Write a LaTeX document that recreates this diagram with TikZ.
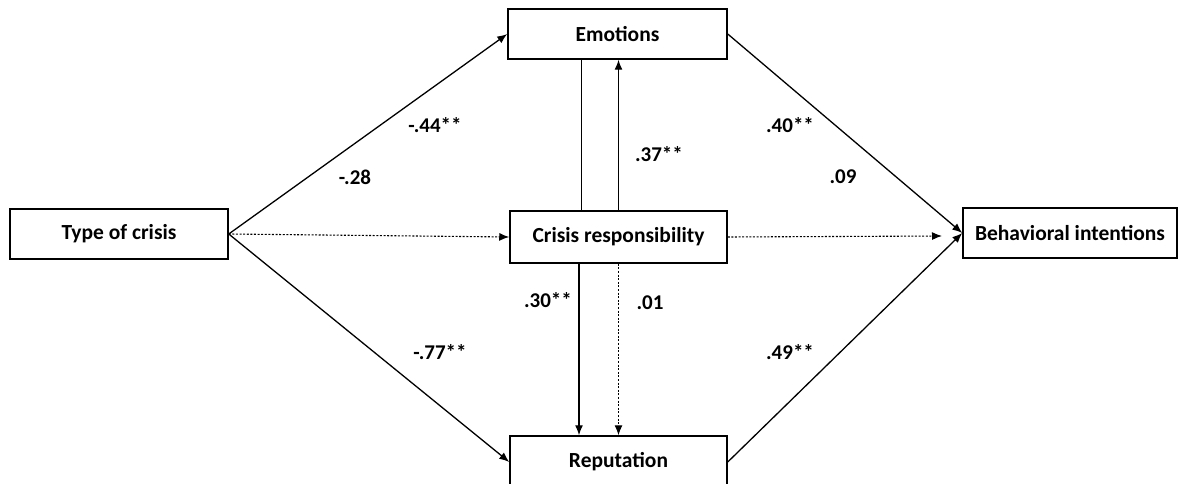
\documentclass[tikz,border=0pt]{standalone}
\usepackage{fontspec}
\setmainfont{Carlito}
\usetikzlibrary{arrows.meta}

\tikzset{
  var/.style={draw=black, line width=1.5pt, minimum height=50pt, inner sep=0pt,
    font=\fontsize{21.5}{24}\selectfont\bfseries},
  path/.style={black, line width=1.3pt, -{Latex[length=10pt,width=8pt]}},
  nspath/.style={path, dash pattern=on 2pt off 1.6pt, line width=1.1pt},
  coef/.style={font=\fontsize{21}{24}\selectfont\bfseries, inner sep=0pt}
}

\begin{document}
\begin{tikzpicture}[x=1pt, y=-1pt]
        \useasboundingbox (0,0) rectangle (1179,484);
        %\label{crisis_model}
        \node[var, minimum width=218pt] (type) at (119,234) {Type of crisis};
        \node[var, minimum width=219pt] (emo) at (617.5,34) {Emotions};
        \node[var, minimum width=217pt, minimum height=52pt] (resp) at (618.5,237) {Crisis responsibility};
        \node[var, minimum width=217pt, minimum height=52pt] (rep) at (618.5,462) {Reputation};
        \node[var, minimum width=214pt] (behav) at (1070,233) {Behavioral intentions};
        \coordinate (dend) at (942,236);
        % paths from type of crisis
        \draw[path] (type.east) -- (emo.west);
        \draw[nspath] (type.east) -- (resp.west);
        \draw[path] (type.east) -- (rep.west);
        % paths to behavioral intentions
        \draw[path] (emo.east) -- (behav.west);
        \draw[nspath] (resp.east) -- (dend);
        \draw[path] (rep.east) -- (behav.west);
        % crisis responsibility
        \draw[black, line width=1.3pt] ([xshift=-37pt]resp.north) -- ([xshift=-36pt]emo.south);
        \draw[path] (resp.north) -- (resp.north |- emo.south);
        \draw[path] ([xshift=-39.5pt]resp.south) -- ([xshift=-39.5pt]resp.south |- rep.north);
        \draw[nspath] (resp.south) -- (resp.south |- rep.north);
        % coefficients
        \node[coef] (c1) at (435,125) {-.44**};
        \node[coef] (c2) at (355,177) {-.28};
        \node[coef] (c3) at (440,352) {-.77**};
        \node[coef] (c4) at (790,125) {.40**};
        \node[coef] (c5) at (843,177) {.09};
        \node[coef] (c6) at (790,352) {.49**};
        \node[coef] (c7) at (659,154) {.37**};
        \node[coef] (c8) at (548,300) {.30**};
        \node[coef] (c9) at (650,303) {.01};
\end{tikzpicture}
\end{document}
